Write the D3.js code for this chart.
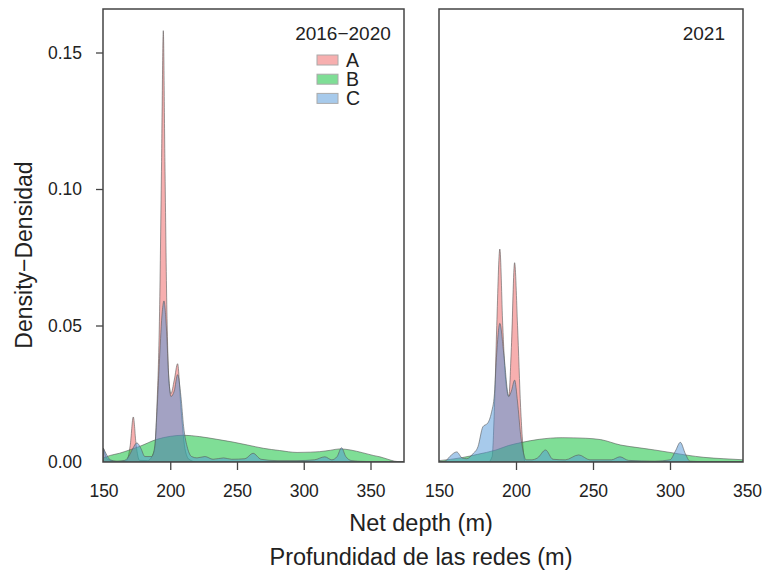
<!DOCTYPE html>
<html lang="en">
<head>
<meta charset="UTF-8"/>
<title>Net depth density</title>
<script src="https://d3js.org/d3.v7.min.js"></script>
<style>
  body { margin: 0; background: #fff; }
  svg { font-family: "Liberation Sans", Arial, sans-serif; }
</style>
</head>
<body>
<script>

var w = 764;
var h = 572;

// series names / colours
var groups = ["A", "B", "C"];
var fills = ["rgba(240,95,95,0.5)", "rgba(0,190,45,0.5)", "rgba(80,150,215,0.5)"];

// tick labels
var xTicks = [150, 200, 250, 300, 350];
var yTicks = [0, 0.05, 0.10, 0.15];

// panel 1: 2016-2020 (density curves)
var depthA1 = [150, 153, 160, 167, 170, 172.3, 174.5, 177, 183, 188, 190, 192, 193.5, 194.8, 196, 197.5, 199, 200.5, 203, 205.5, 208, 211, 214, 220, 375];
var densA1  = [0.005, 0.001, 0.0002, 0.0004, 0.006, 0.0165, 0.006, 0.0006, 0.0005, 0.004, 0.02, 0.055, 0.11, 0.158, 0.11, 0.055, 0.03, 0.025, 0.03, 0.036, 0.02, 0.005, 0.001, 0, 0];

var depthB1 = [150, 155, 162, 170, 177, 190, 200, 210, 222, 235, 247, 258, 270, 282, 295, 305, 312, 320, 327, 335, 344, 352, 357, 363, 368, 375];
var densB1  = [0.0015, 0.0024, 0.0032, 0.0045, 0.0057, 0.0083, 0.0094, 0.0098, 0.0093, 0.0083, 0.0073, 0.0062, 0.005, 0.0042, 0.0035, 0.0036, 0.0038, 0.0043, 0.0048, 0.0044, 0.0034, 0.0024, 0.0019, 0.001, 0.0003, 0];

var depthC1 = [150, 152, 155, 160, 166, 170, 172, 175, 178, 181, 186, 188.5, 190, 192, 194, 195.3, 197, 199, 200.5, 203, 205.5, 208, 210, 213, 216, 220, 226, 232, 240, 246, 256, 262, 268, 280, 295, 308, 315.8, 321, 325, 328.3, 331.5, 336, 345, 375];
var densC1  = [0.005, 0.003, 0.0008, 0.0003, 0.0006, 0.003, 0.005, 0.007, 0.005, 0.002, 0.002, 0.006, 0.018, 0.038, 0.055, 0.059, 0.05, 0.03, 0.024, 0.026, 0.032, 0.024, 0.013, 0.005, 0.002, 0.0015, 0.002, 0.001, 0.0015, 0.001, 0.0012, 0.0032, 0.001, 0.0005, 0.0005, 0.0008, 0.0019, 0.0008, 0.002, 0.0052, 0.002, 0.0005, 0.0002, 0];

// panel 2: 2021
var depthA2 = [150, 182, 184.5, 186, 187.5, 189.5, 191.4, 193, 195.3, 197, 199.1, 201, 203, 204.2, 206, 350];
var densA2  = [0, 0, 0.002, 0.02, 0.05, 0.078, 0.05, 0.032, 0.024, 0.042, 0.073, 0.05, 0.02, 0.008, 0, 0];

var depthB2 = [150, 165, 175, 187, 195, 204, 215, 230, 245, 255, 268, 280, 290, 300, 311, 322, 335, 348];
var densB2  = [0.0005, 0.0016, 0.0028, 0.0044, 0.006, 0.0072, 0.0083, 0.0089, 0.0087, 0.0082, 0.0062, 0.0052, 0.0044, 0.0035, 0.0025, 0.0017, 0.0012, 0.0008];

var depthC2 = [150, 154, 157, 161.5, 165, 168, 172, 175.3, 178.5, 181.7, 184, 186, 187.5, 189.5, 192, 195.3, 197, 199.1, 201, 203, 205, 206.5, 210, 214, 219.2, 224, 232, 240.7, 248, 262, 267.5, 273, 290, 300, 303.5, 306.7, 310, 313, 330, 350];
var densC2  = [0, 0.0003, 0.002, 0.0037, 0.0015, 0.0012, 0.003, 0.0056, 0.0129, 0.0143, 0.018, 0.025, 0.04, 0.0508, 0.04, 0.024, 0.026, 0.03, 0.022, 0.01, 0.003, 0.0008, 0.0008, 0.0015, 0.0044, 0.001, 0.0008, 0.0026, 0.0008, 0.0008, 0.0019, 0.0006, 0.0003, 0.0008, 0.004, 0.0072, 0.003, 0.0003, 0, 0];

var panels = [
  { title: "2016\u22122020", legend: true,
    series: [[depthA1, densA1], [depthB1, densB1], [depthC1, densC1]],
    range: [103.5, 370.5], left: 103, right: 404 },
  { title: "2021", legend: false,
    series: [[depthA2, densA2], [depthB2, densB2], [depthC2, densC2]],
    range: [439, 747], left: 439, right: 743 }
];

var plotTop = 9, plotBottom = 462;

var yScale = d3.scaleLinear()
  .domain([0, 0.15])
  .range([plotBottom, 52.5]);

var svg = d3.select("body")
  .append("svg")
  .attr("width", w)
  .attr("height", h);

panels.forEach(function(p, pi) {
  var xScale = d3.scaleLinear().domain([150, 350]).range(p.range);

  // clip to the plot box
  svg.append("clipPath")
    .attr("id", "clip" + pi)
    .append("rect")
    .attr("x", p.left)
    .attr("y", plotTop)
    .attr("width", p.right - p.left)
    .attr("height", plotBottom - plotTop);

  var area = d3.area()
    .x(function(d) { return xScale(d[0]); })
    .y0(yScale(0))
    .y1(function(d) { return yScale(d[1]); })
    .curve(d3.curveMonotoneX);

  var g = svg.append("g").attr("clip-path", "url(#clip" + pi + ")");

  p.series.forEach(function(s, si) {
    var pts = d3.zip(s[0], s[1]);
    g.append("path")
      .datum(pts)
      .attr("d", area)
      .attr("fill", fills[si])
      .attr("stroke", "rgba(90,90,90,0.6)")
      .attr("stroke-width", 1);
  });

  // box
  svg.append("rect")
    .attr("x", p.left)
    .attr("y", plotTop)
    .attr("width", p.right - p.left)
    .attr("height", plotBottom - plotTop)
    .attr("fill", "none")
    .attr("stroke", "#444")
    .attr("stroke-width", 1.5);

  // x axis
  var xAxis = d3.axisBottom(xScale)
    .tickValues(xTicks)
    .tickFormat(d3.format("d"))
    .tickSize(8)
    .tickPadding(15)
    .tickSizeOuter(0);

  var gx = svg.append("g")
    .attr("transform", "translate(0," + plotBottom + ")")
    .call(xAxis);
  gx.select(".domain").remove();
  gx.selectAll(".tick line")
    .attr("stroke", "#444")
    .attr("stroke-width", 1.3)
    .attr("opacity", function(d) { return (d == 150 || (pi == 1 && d == 350)) ? 0 : 1; });
  gx.selectAll(".tick text")
    .attr("fill", "#222")
    .style("font-size", "17.5px");

  // title / legend
  if (p.legend) {
    svg.append("text")
      .attr("x", 343)
      .attr("y", 39.5)
      .attr("text-anchor", "middle")
      .attr("fill", "#222")
      .style("font-size", "19px")
      .text(p.title);

    groups.forEach(function(gname, i) {
      svg.append("rect")
        .attr("x", 317)
        .attr("y", 55 + i * 19.2)
        .attr("width", 21)
        .attr("height", 10)
        .attr("fill", fills[i])
        .attr("stroke", "#aaa")
        .attr("stroke-width", 1);
      svg.append("text")
        .attr("x", 346)
        .attr("y", 67 + i * 19)
        .attr("fill", "#222")
        .style("font-size", "19.5px")
        .text(gname);
    });
  } else {
    svg.append("text")
      .attr("x", 725)
      .attr("y", 39.5)
      .attr("text-anchor", "end")
      .attr("fill", "#222")
      .style("font-size", "19px")
      .text(p.title);
  }
});

// y axis (left panel only)
var yAxis = d3.axisLeft(yScale)
  .tickValues(yTicks)
  .tickFormat(d3.format(".2f"))
  .tickSize(7)
  .tickPadding(14)
  .tickSizeOuter(0);

var gy = svg.append("g")
  .attr("transform", "translate(103,0)")
  .call(yAxis);
gy.select(".domain").remove();
gy.selectAll(".tick line")
  .attr("stroke", "#444")
  .attr("stroke-width", 1.3)
  .attr("opacity", function(d) { return d == 0 ? 0 : 1; });
gy.selectAll(".tick text")
  .attr("fill", "#222")
  .style("font-size", "17.5px");

// axis titles
svg.append("text")
  .attr("x", 421)
  .attr("y", 531)
  .attr("text-anchor", "middle")
  .attr("fill", "#222")
  .style("font-size", "23.5px")
  .text("Net depth (m)");

svg.append("text")
  .attr("x", 421)
  .attr("y", 565)
  .attr("text-anchor", "middle")
  .attr("fill", "#222")
  .style("font-size", "23.5px")
  .text("Profundidad de las redes (m)");

svg.append("text")
  .attr("transform", "translate(32,255) rotate(-90)")
  .attr("text-anchor", "middle")
  .attr("fill", "#222")
  .style("font-size", "23px")
  .text("Density\u2212Densidad");

</script>
</body>
</html>
